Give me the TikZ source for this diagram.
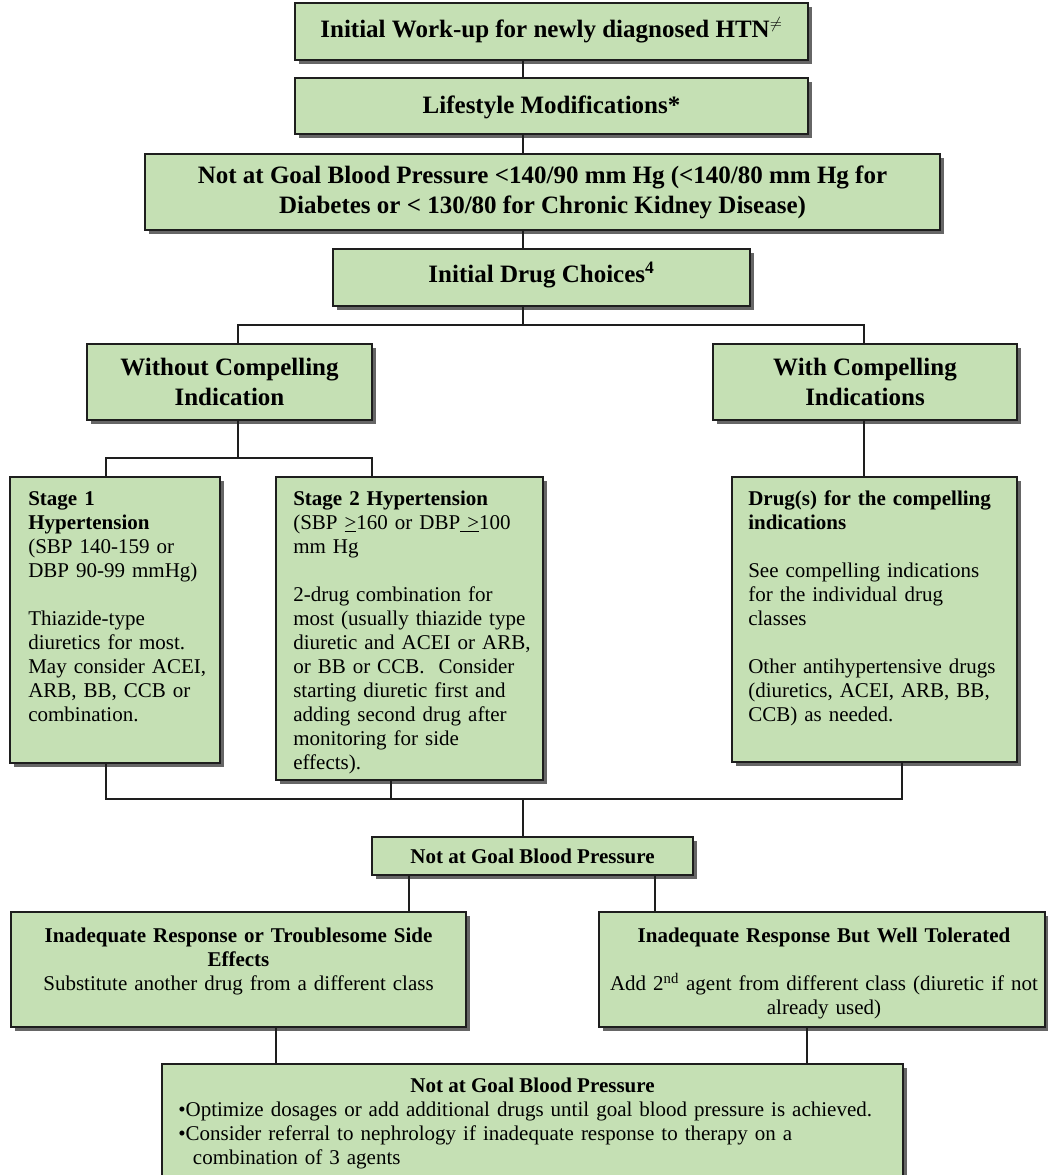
\documentclass[tikz,border=0pt]{standalone}
\usepackage{fontspec}
\setmainfont{Liberation Serif}
\usetikzlibrary{fit,shadows,calc}
\definecolor{boxgreen}{RGB}{197,224,180}
\definecolor{edge}{RGB}{30,30,30}
\tikzset{
 box/.style={draw=edge, line width=1.5pt, fill=boxgreen, inner sep=0pt, outer sep=0pt,
   drop shadow={shadow xshift=3pt, shadow yshift=-3pt, fill=black!60, opacity=1}},
 conn/.style={draw=edge, line width=1.3pt},
 hdr/.style={font=\fontsize{18.75pt}{22.5pt}\selectfont\bfseries, inner sep=0pt, align=center},
 body/.style={font=\fontsize{15.75pt}{18pt}\selectfont, inner sep=0pt},
}
\begin{document}
\begin{tikzpicture}[x=0.75pt, y=-0.75pt]
\path[fill=white] (0,0) rectangle (1047,1175);
\useasboundingbox (0,0) rectangle (1047,1175);

% boxes
\node[box, fit={(295,3) (808,60)}] (b1) {};
\node[box, fit={(295,78) (808,134)}] (b2) {};
\node[box, fit={(145,154) (940,230)}] (b3) {};
\node[box, fit={(333,249) (750,306)}] (b4) {};
\node[box, fit={(87,344) (372,420)}] (b5) {};
\node[box, fit={(713,344) (1017,420)}] (b6) {};
\node[box, fit={(10,477) (220,763)}] (b7) {};
\node[box, fit={(276,477) (543,780)}] (b8) {};
\node[box, fit={(732,477) (1017,762)}] (b9) {};
\node[box, fit={(372,837) (693,875)}] (b10) {};
\node[box, fit={(11,912) (466,1027)}] (b11) {};
\node[box, fit={(599,912) (1045,1027)}] (b12) {};
\node[box, fit={(162,1064) (903,1195)}] (b13) {};

% texts
\node[hdr, anchor=base] (t1) at (551.5,37) {Initial Work-up for newly diagnosed HTN$^{\neq}$};
\node[hdr, anchor=base] (t2) at (551.5,113) {Lifestyle Modifications*};
\node[hdr, anchor=center] (t3) at (542.5,192) {Not at Goal Blood Pressure <140/90 mm Hg (<140/80 mm Hg for\\Diabetes or < 130/80 for Chronic Kidney Disease)};
\node[hdr, anchor=base] (t4) at (541.5,282) {Initial Drug Choices\textsuperscript{4}};
\node[hdr, anchor=center] (t5) at (229.5,382) {Without Compelling\\Indication};
\node[hdr, anchor=center] (t6) at (865,382) {With Compelling\\Indications};

\node[body, anchor=base west, text width=190pt, align=left] (t7) at (28,505)
 {\textbf{Stage 1}\\\textbf{Hypertension}\\(SBP 140-159 or\\DBP 90-99 mmHg)\\[18pt]Thiazide-type\\diuretics for most.\\May consider ACEI,\\ARB, BB, CCB or\\combination.};
\node[body, anchor=base west, text width=190pt, align=left] (t8) at (293,505)
 {\textbf{Stage 2 Hypertension}\\(SBP \underline{>}160 or DBP\underline{ >}100\\mm Hg\\[18pt]2-drug combination for\\most (usually thiazide type\\diuretic and ACEI or ARB,\\or BB or CCB.~ Consider\\starting diuretic first and\\adding second drug after\\monitoring for side\\effects).};
\node[body, anchor=base west, text width=200pt, align=left] (t9) at (748,505)
 {\textbf{Drug(s) for the compelling}\\\textbf{indications}\\[18pt]See compelling indications\\for the individual drug\\classes\\[18pt]Other antihypertensive drugs\\(diuretics, ACEI, ARB, BB,\\CCB) as needed.};

\node[body, anchor=base, font=\fontsize{15.75pt}{18pt}\selectfont\bfseries] (t10) at (532.5,863) {Not at Goal Blood Pressure};
\node[body, anchor=base, text width=330pt, align=center] (t11) at (238.5,942)
 {\textbf{Inadequate Response or Troublesome Side}\\\textbf{Effects}\\Substitute another drug from a different class};
\node[body, anchor=base, text width=330pt, align=center] (t12) at (824,942)
 {\textbf{Inadequate Response But Well Tolerated}\\[18pt]Add 2\textsuperscript{nd} agent from different class (diuretic if not\\already used)};
\node[body, anchor=base, font=\fontsize{15.75pt}{18pt}\selectfont\bfseries] (t13a) at (532.5,1092) {Not at Goal Blood Pressure};
\node[body, anchor=base west, text width=560pt, align=left] (t13b) at (178,1116)
 {\textbullet Optimize dosages or add additional drugs until goal blood pressure is achieved.\\\textbullet Consider referral to nephrology if inadequate response to therapy on a\\\hspace*{11pt}combination of 3 agents};

% connector columns and junctions
\coordinate (xS) at (523,0);
\coordinate (xL) at (238,0);
\coordinate (xR) at (864,0);
\coordinate (x7) at (106,0);
\coordinate (x8t) at (372,0);
\coordinate (x8b) at (391,0);
\coordinate (x9b) at (902,0);
\coordinate (x10L) at (409,0);
\coordinate (x10R) at (655,0);
\coordinate (x11) at (276,0);
\coordinate (x12) at (807,0);
\coordinate (j1) at (523,325);
\coordinate (j2) at (238,458);
\coordinate (j3) at (523,799);

\draw[conn] (b1.south -| xS) -- (b2.north -| xS);
\draw[conn] (b2.south -| xS) -- (b3.north -| xS);
\draw[conn] (b3.south -| xS) -- (b4.north -| xS);
\draw[conn] (b4.south -| xS) -- (j1);
\draw[conn] (b5.north -| xL) |- (j1) -| (b6.north -| xR);
\draw[conn] (b5.south -| xL) -- (j2);
\draw[conn] (b7.north -| x7) |- (j2) -| (b8.north -| x8t);
\draw[conn] (b6.south -| xR) -- (b9.north -| xR);
\draw[conn] (b7.south -| x7) |- (j3) -| (b9.south -| x9b);
\draw[conn] (b8.south -| x8b) -- (x8b |- j3);
\draw[conn] (j3) -- (b10.north -| xS);
\draw[conn] (b10.south -| x10L) -- (b11.north -| x10L);
\draw[conn] (b10.south -| x10R) -- (b12.north -| x10R);
\draw[conn] (b11.south -| x11) -- (b13.north -| x11);
\draw[conn] (b12.south -| x12) -- (b13.north -| x12);
\end{tikzpicture}
\end{document}
